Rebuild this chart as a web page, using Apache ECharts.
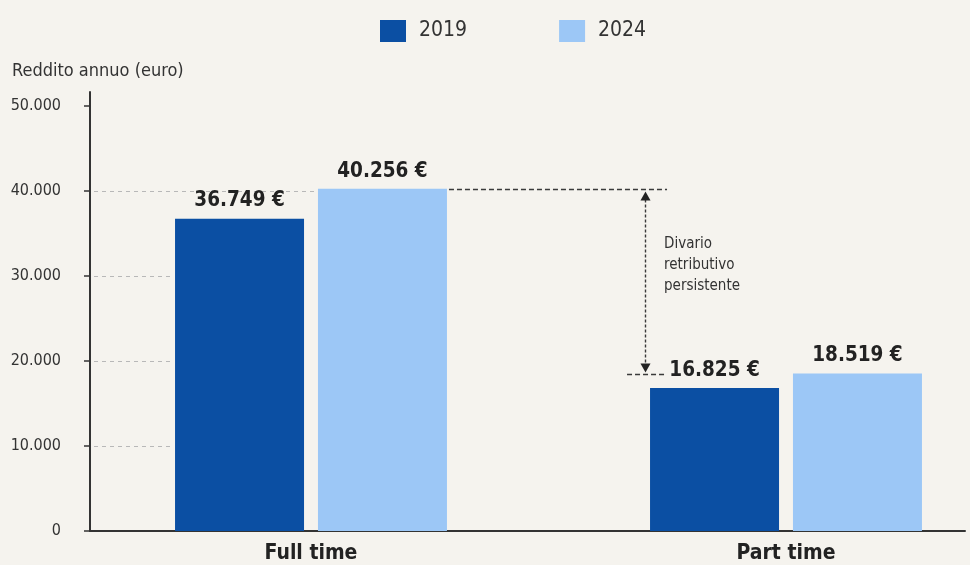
<!DOCTYPE html>
<html><head><meta charset="utf-8">
<script src="https://cdn.jsdelivr.net/npm/echarts@6/dist/echarts.min.js"></script>
<style>html,body{margin:0;padding:0;background:#f5f3ee;}#c{width:970px;height:565px;}</style>
</head><body><div id="c"></div>
<script>
const categories = ['Full time', 'Part time'];
const years = ['2019', '2024'];
const values2019 = [36749, 16825];
const values2024 = [40256, 18519];
const yTicks = [0, 10000, 20000, 30000, 40000, 50000];
const yAxisTitle = 'Reddito annuo (euro)';
const noteText = 'Divario\nretributivo\npersistente';

const FONT = "'DejaVu Sans Condensed', 'Liberation Sans Narrow', Roboto, sans-serif";
const fmt = v => String(v).replace(/\B(?=(\d{3})+(?!\d))/g, '.');
const C2019 = '#0b4fa3', C2024 = '#9cc7f6';
const TOP = 92, BOTTOM = 34, YMAX = 51650;

const chart = echarts.init(document.getElementById('c'), null, {renderer: 'canvas'});

const valueLabel = {
  show: true, position: 'top', distance: 7, fontSize: 20.5, fontWeight: 'bold',
  color: '#222', fontFamily: FONT, formatter: p => fmt(p.value) + ' €'
};

chart.setOption({
  backgroundColor: '#f5f3ee',
  animation: false,
  textStyle: {fontFamily: FONT},
  legend: {
    left: 375, top: 15, itemWidth: 26, itemHeight: 22, itemGap: 92, icon: 'rect',
    textStyle: {fontSize: 21, color: '#333', fontFamily: FONT, padding: [0, 0, 0, 8]},
    data: years
  },
  grid: [
    {left: 90, right: 5, top: TOP, bottom: BOTTOM},
    {left: 311, right: 184, top: TOP, bottom: BOTTOM}
  ],
  xAxis: [
    {gridIndex: 0, type: 'value', min: 0, max: 1,
     axisLine: {show: true, lineStyle: {color: '#333', width: 2}},
     axisTick: {show: false}, axisLabel: {show: false}, splitLine: {show: false}},
    {gridIndex: 1, type: 'category', data: categories, boundaryGap: false,
     axisLine: {show: false}, axisTick: {show: false},
     axisLabel: {fontSize: 21, fontWeight: 'bold', color: '#222', margin: 12, fontFamily: FONT}}
  ],
  yAxis: [
    {gridIndex: 0, type: 'value', min: 0, max: YMAX,
     name: yAxisTitle, nameLocation: 'end', nameGap: 12,
     nameTextStyle: {fontSize: 18, color: '#333', align: 'left', padding: [0, 0, 0, -78], fontFamily: FONT},
     axisLine: {show: true, lineStyle: {color: '#333', width: 2}},
     axisTick: {show: true, length: 6, customValues: yTicks, lineStyle: {color: '#333', width: 1.5}},
     axisLabel: {customValues: yTicks, fontSize: 16, color: '#333', margin: 29, fontFamily: FONT,
                 formatter: v => fmt(v)},
     splitLine: {show: false}},
    {gridIndex: 1, type: 'value', min: 0, max: YMAX, show: false, splitLine: {show: false}}
  ],
  series: [
    {name: years[0], type: 'bar', xAxisIndex: 1, yAxisIndex: 1, data: values2019,
     barWidth: 129, barGap: '10.8%', itemStyle: {color: C2019}, label: valueLabel},
    {name: years[1], type: 'bar', xAxisIndex: 1, yAxisIndex: 1, data: values2024,
     barWidth: 129, barGap: '10.8%', itemStyle: {color: C2024}, label: valueLabel}
  ]
});

function barRect(si, i) {
  const l = chart.getModel().getSeriesByIndex(si).getData().getItemLayout(i);
  const top = Math.min(l.y, l.y + l.height);
  return {left: l.x, right: l.x + l.width, top: top};
}

const yPix = v => chart.convertToPixel({yAxisIndex: 0}, v);
const axisX = chart.convertToPixel({xAxisIndex: 0}, 0);

const bars = [];
[values2019, values2024].forEach((arr, si) => arr.forEach((v, i) => bars.push({v, r: barRect(si, i)})));
bars.sort((a, b) => a.r.left - b.r.left);

const elements = [];
// short dashed gridlines from the axis to the first bar reaching that level
yTicks.slice(1, -1).forEach(t => {
  const hit = bars.find(b => b.v >= t);
  const y = Math.round(yPix(t)) + 0.5;
  elements.push({type: 'line', silent: true, z: 0,
    shape: {x1: axisX + 4, y1: y, x2: hit.r.left - 2, y2: y},
    style: {stroke: '#b8b8b8', lineWidth: 1, lineDash: [4, 4]}});
});

// gap annotation between 2024 full time and 2024 part time
const ft24 = barRect(1, 0), pt19 = barRect(0, 1);
const yTop = Math.round(yPix(values2024[0])) + 0.5;
const yBot = Math.round(yPix(values2024[1])) + 0.5;
const ax = Math.round(pt19.left - 5) + 0.5;
const dash = {stroke: '#3a3a3a', lineWidth: 1.4, lineDash: [5, 3]};
elements.push({type: 'line', silent: true, shape: {x1: ft24.right + 2, y1: yTop, x2: pt19.left + 17, y2: yTop}, style: dash});
elements.push({type: 'line', silent: true, shape: {x1: pt19.left - 23, y1: yBot, x2: pt19.left + 17, y2: yBot}, style: dash});
elements.push({type: 'line', silent: true, shape: {x1: ax, y1: yTop + 10, x2: ax, y2: yBot - 10}, style: {stroke: '#3a3a3a', lineWidth: 1.4, lineDash: [3, 2]}});
elements.push({type: 'polygon', silent: true, shape: {points: [[ax, yTop + 2], [ax - 5, yTop + 11], [ax + 5, yTop + 11]]}, style: {fill: '#222'}});
elements.push({type: 'polygon', silent: true, shape: {points: [[ax, yBot - 2], [ax - 5, yBot - 11], [ax + 5, yBot - 11]]}, style: {fill: '#222'}});
elements.push({type: 'text', silent: true, x: pt19.left + 14, y: yTop + 44,
  style: {text: noteText, fontSize: 15, lineHeight: 21, fill: '#333', fontFamily: FONT}});

chart.setOption({graphic: {elements: elements}});
</script>
</body></html>
